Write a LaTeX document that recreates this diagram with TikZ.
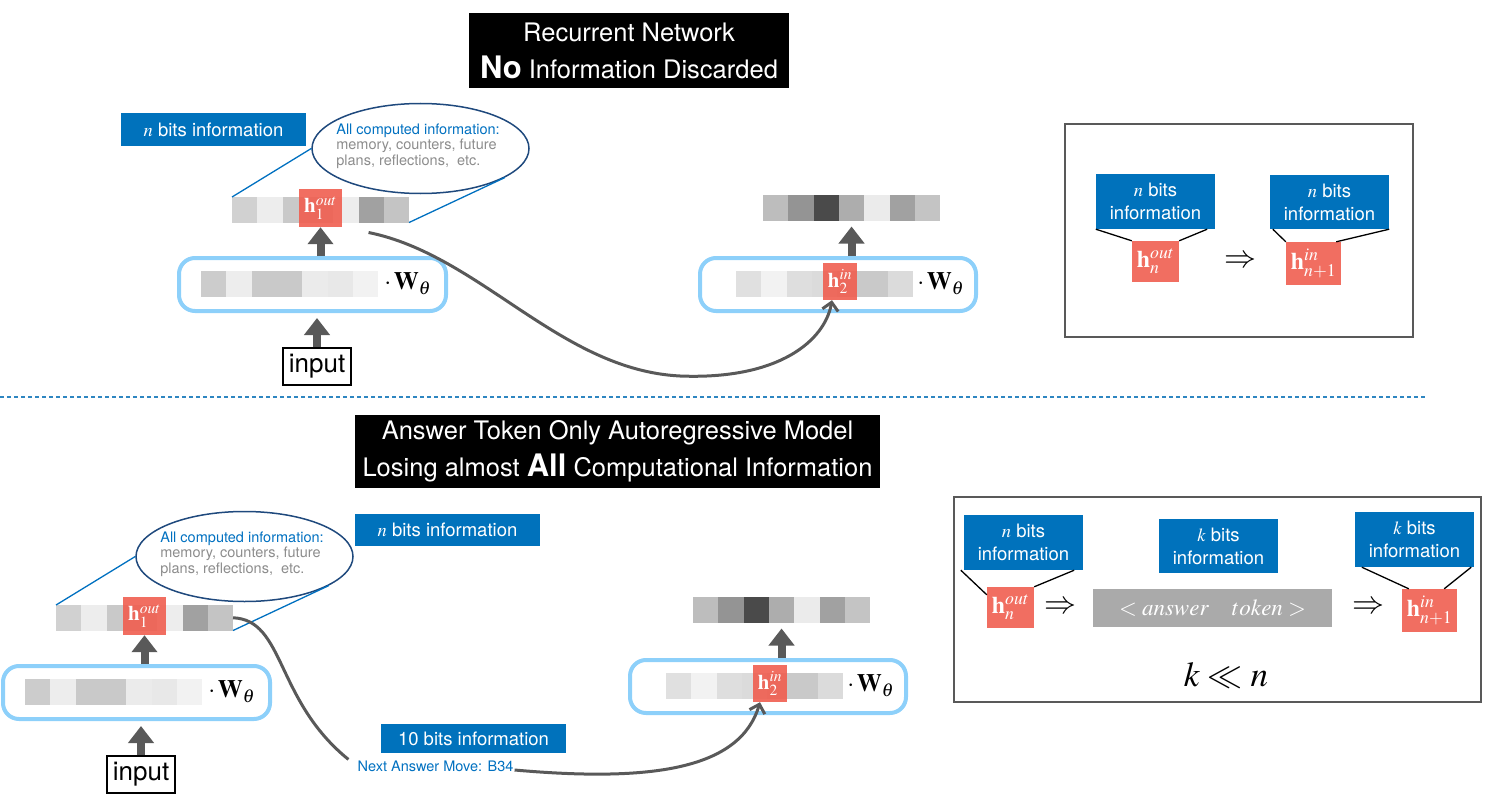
\RequirePackage{fix-cm}
\documentclass[tikz,border=0pt]{standalone}
\usepackage{mathptmx}
\usepackage[no-math]{fontspec}
\setmainfont{TeX Gyre Heros}
\usetikzlibrary{arrows.meta,shapes.geometric,positioning}

\definecolor{infoblue}{RGB}{0,114,188}
\definecolor{hred}{RGB}{240,94,80}
\definecolor{modelblue}{RGB}{141,208,250}
\definecolor{arrowgray}{RGB}{89,89,89}
\definecolor{ellblue}{RGB}{31,73,125}
\definecolor{callblue}{RGB}{0,112,192}
\definecolor{textgray}{RGB}{140,140,140}
\definecolor{dashblue}{RGB}{46,134,193}
\definecolor{tokgray}{RGB}{170,170,170}

% one row of 7 gray cells, named by #3
\newcommand{\cellrow}[4]{%
  \foreach \g [count=\i from 0] in {#4}
    \fill[black!\g] ({#1+\i*25.3},#2) rectangle ++(25.3,25.5);
  \node[vecbox] (#3) at ({#1+88.55},{#2+12.75}) {};}

\begin{document}
\begin{tikzpicture}[x=1pt,y=-1pt,
 vecbox/.style={inner sep=0pt,outer sep=0pt,minimum width=177pt,minimum height=25.5pt},
 titlebox/.style={fill=black,text=white,align=center,inner sep=0pt,font=\fontsize{25.5}{37}\selectfont},
 infobox/.style={fill=infoblue,text=white,align=center,inner sep=0pt,font=\fontsize{18.5}{23}\selectfont},
 hbox/.style={fill=hred,fill opacity=0.9,text opacity=1,text=white,inner sep=0pt,font=\fontsize{21}{21}\selectfont},
 modelbox/.style={draw=modelblue,line width=4pt,rounded corners=16pt,minimum height=53pt},
 wlabel/.style={inner sep=0pt,font=\fontsize{25}{25}\selectfont},
 inputbox/.style={draw,line width=1.2pt,minimum width=68pt,minimum height=37pt,inner sep=0pt,font=\fontsize{26}{26}\selectfont},
 memo/.style={ellipse,draw=ellblue,line width=1.5pt,minimum width=217pt,minimum height=90pt},
 memotext/.style={text=textgray,align=left,inner sep=0pt,font=\fontsize{14.5}{15.5}\selectfont},
 callout/.style={draw=callblue,line width=1.3pt},
 leader/.style={draw=black,line width=1.3pt},
 blockarrow/.style={draw=arrowgray,line width=8pt,-{Triangle[length=17pt,width=25pt]}},
 flow/.style={draw=arrowgray,line width=3pt,-{Straight Barb[length=8pt,width=16pt]}},
 imply/.style={inner sep=0pt,font=\fontsize{32}{32}\selectfont},
 frame/.style={draw=black!65,line width=1.2pt}]

\useasboundingbox (0,0) rectangle (1488,797);

% titles
\node[titlebox,minimum width=320pt,minimum height=75pt] (titlea) at (629,50.5)
  {Recurrent Network\\{\fontsize{31}{37}\selectfont\bfseries No} Information Discarded};
\node[titlebox,minimum width=525pt,minimum height=73pt] (titleb) at (617.5,451.5)
  {Answer Token Only Autoregressive Model\\Losing almost {\fontsize{31}{37}\selectfont\bfseries All} Computational Information};

\draw[dashblue,line width=1.5pt,dash pattern=on 4pt off 3pt] (0,397) -- (1425,397);

% step 1 (upper and lower)
\foreach \p/\sx/\sy in {a/0/0,b/-176/408}{
 \begin{scope}[shift={(\sx,\sy)}]
  \node[memo] (mem\p) at (420.5,148.5) {};
  \node[memotext] (memtxt\p) at (418,146)
    {{\color{callblue}All computed information:}\\memory, counters, future\\plans, reflections,\ \ etc.};
  \cellrow{232}{197}{out\p}{18,7,21,21,7,37,23}
  \node[hbox,minimum width=43pt,minimum height=38pt] (hout\p) at (320.5,208) {$\mathbf{h}^{out}_1$};
  \draw[callout] (out\p.north west) -- (mem\p.west);
  \draw[callout] (out\p.south east) -- (mem\p.-19);
  \node[modelbox,minimum width=267pt] (model\p) at (312.5,284.5) {};
  \cellrow{201}{271}{in\p}{20,7,21,21,8,9,5}
  \node[wlabel,right=6pt of in\p] (w\p) {$\cdot\,\mathbf{W}_\theta$};
  \node[inputbox] (input\p) at (317,366.5) {input};
  \draw[blockarrow] (hout\p.south |- model\p.north) -- (hout\p.south);
  \draw[blockarrow,shorten >=5pt] (input\p.north) -- (input\p.north |- model\p.south);
 \end{scope}
}

% step 2 (upper and lower)
\foreach \p/\sx/\sy in {a/0/0,b/-70/402}{
 \begin{scope}[shift={(\sx,\sy)}]
  \cellrow{763}{195}{next\p}{26,42,71,32,8,37,23}
  \node[modelbox,minimum width=276pt] (modelr\p) at (838,284.5) {};
  \cellrow{736}{271}{inr\p}{12,5,13,14,21,21,14}
  \node[hbox,minimum width=34pt,minimum height=37pt] (hin\p) at (840,281.5) {$\mathbf{h}^{in}_2$};
  \node[wlabel,right=4pt of inr\p] (wr\p) {$\cdot\,\mathbf{W}_\theta$};
  \draw[blockarrow,shorten >=6pt] (next\p.south |- modelr\p.north) -- (next\p.south);
 \end{scope}
}

\node[infobox,minimum width=185pt,minimum height=33pt] (bitsa) at (213.5,129.5) {$n$ bits information};
\node[infobox,minimum width=185pt,minimum height=32pt] (bitsb) at (447.5,530) {$n$ bits information};
\node[infobox,minimum width=185pt,minimum height=29pt] (ten) at (473.5,738.5) {10 bits information};
\node[text=callblue,inner sep=1pt,font=\fontsize{14.5}{14.5}\selectfont] (move) at (435.5,766) {Next Answer Move: B34};

% hidden state carried over
\draw[flow] ([xshift=48pt,yshift=-10pt]outa.south) .. controls (480,255) and (560,370) .. (680,376)
  .. controls (780,380) and (825,340) .. ([xshift=-8pt]hina.south);
\draw[arrowgray,line width=3pt] (outb.east) .. controls (285,620) and (275,700) .. ([xshift=-8pt]move.north west);
\draw[flow] ([yshift=-4pt]move.east) .. controls (650,782) and (740,770) .. ([xshift=-10pt]hinb.south);

% summary, upper
\draw[frame] (1065,124) rectangle (1413,337);
\node[infobox,minimum width=119pt,minimum height=55pt] (nbitsa) at (1155.5,201.5) {$n$ bits\\information};
\node[infobox,minimum width=119pt,minimum height=54pt] (nbitsa2) at (1329.5,202) {$n$ bits\\information};
\node[hbox,font=\fontsize{24}{24}\selectfont,minimum width=47pt,minimum height=41pt] (hna) at (1155.5,261.5) {$\mathbf{h}^{out}_n$};
\node[hbox,font=\fontsize{24}{24}\selectfont,minimum width=55pt,minimum height=43pt] (hnexta) at (1313.5,263.5) {$\mathbf{h}^{in}_{n+1}$};
\node[imply] (implya) at (1240,262) {$\Rightarrow$};
\draw[leader] (hna.north west) -- (nbitsa.south west);
\draw[leader] (hna.north east) -- ([xshift=-8pt]nbitsa.south east);
\draw[leader] (hnexta.north west) -- ([xshift=3pt]nbitsa2.south west);
\draw[leader] ([xshift=-5pt]hnexta.north east) -- (nbitsa2.south east);

% summary, lower
\draw[frame] (954,497) rectangle (1481,702);
\node[infobox,minimum width=119pt,minimum height=55pt] (nbitsb) at (1023.5,542.5) {$n$ bits\\information};
\node[infobox,minimum width=119pt,minimum height=54pt] (kbits) at (1218.5,546) {$k$ bits\\information};
\node[infobox,minimum width=119pt,minimum height=55pt] (kbits2) at (1414.5,539.5) {$k$ bits\\information};
\node[hbox,font=\fontsize{24}{24}\selectfont,minimum width=47pt,minimum height=41pt] (hnb) at (1010.5,607.5) {$\mathbf{h}^{out}_n$};
\node[hbox,font=\fontsize{24}{24}\selectfont,minimum width=55pt,minimum height=43pt] (hnextb) at (1429.5,610.5) {$\mathbf{h}^{in}_{n+1}$};
\node[fill=tokgray,text=white,inner sep=0pt,minimum width=239pt,minimum height=38pt,font=\fontsize{23}{23}\selectfont] (tok) at (1212.5,608) {$<answer\quad token>$};
\node[imply] (implyb) at (1060,608) {$\Rightarrow$};
\node[imply] (implyc) at (1368,608) {$\Rightarrow$};
\node[inner sep=0pt,font=\fontsize{35}{35}\selectfont] (kn) at (1226,675) {$k\ll n$};
\draw[leader] ([yshift=-8pt]hnb.north west) -- ([xshift=-3pt]nbitsb.south west);
\draw[leader] (hnb.north east) -- ([xshift=-9pt]nbitsb.south east);
\draw[leader] ([xshift=7pt]hnextb.north west) -- ([xshift=7pt]kbits2.south west);
\draw[leader] ([xshift=-13pt]hnextb.north east) -- ([xshift=-3pt]kbits2.south east);
\end{tikzpicture}
\end{document}
